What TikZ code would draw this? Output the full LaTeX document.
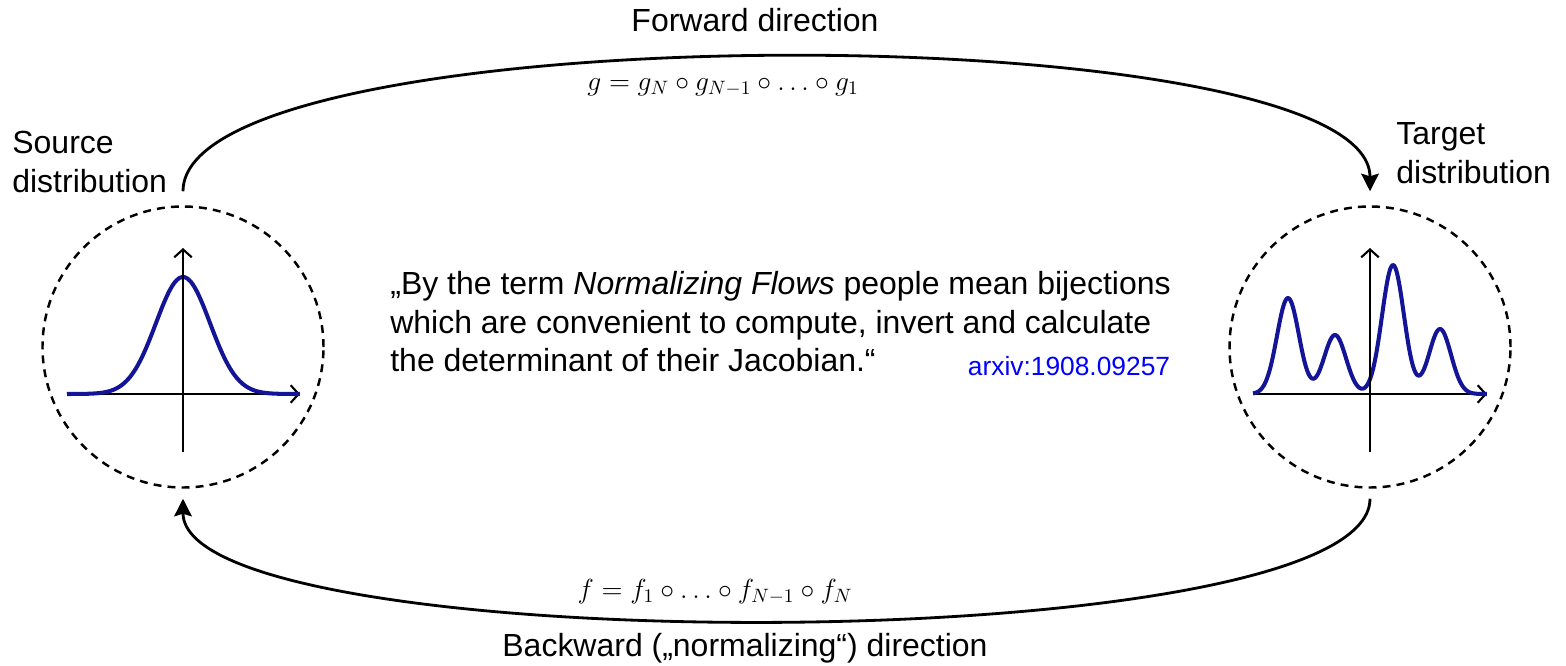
\RequirePackage{fix-cm}
\documentclass[tikz,border=0pt]{standalone}
\usepackage{amsmath}
\usepackage{fontspec}
\setmainfont{Liberation Sans}
\usepackage{tikz}
\usetikzlibrary{positioning, arrows.meta}
\definecolor{pdfblue}{RGB}{20,20,150}
\definecolor{refblue}{RGB}{0,0,255}

\begin{document}
\begin{tikzpicture}[
    dist/.style={circle, draw, line width=1.4pt, dash pattern=on 4.5pt off 3.5pt,
                 minimum size=5.62cm, inner sep=0pt},
    lbl/.style={font=\fontsize{18.2}{21.9}\selectfont, align=left, inner sep=0pt},
    eq/.style={font=\fontsize{15.7}{18}\selectfont},
    axis/.style={line width=1.2pt, -{Straight Barb[length=4.5pt,width=10pt]}},
    pdf/.style={line width=2.3pt, color=pdfblue, line join=round},
    flow/.style={line width=1.6pt, -{Stealth[length=10pt,width=10pt,inset=1.5pt]}}
]
\useasboundingbox (0,0) rectangle (31.32,13.3);

\node[dist] (src) at (3.66,6.36) {};
\node[dist] (tgt) at (27.4,6.36) {};

\node[lbl, anchor=west] (srclbl) at (0.24,10.06) {Source\\distribution};
\node[lbl, anchor=west] (tgtlbl) at (27.92,10.24) {Target\\distribution};

% source: standard normal
\draw[axis] (1.34,5.42) -- (6.0,5.42);
\draw[pdf] plot[domain=1.34:6.0, samples=90, smooth]
    (\x, {5.42 + 2.34*exp(-((\x-3.66)/0.54)^2/2)});
\draw[axis] (3.66,4.26) -- (3.66,8.34);

% target: four bumps
\draw[axis] (25.06,5.42) -- (29.74,5.42);
\draw[pdf] plot[domain=25.06:29.74, samples=200, smooth]
    (\x, {5.42 + 1.92*exp(-((\x-25.76)/0.22)^2/2) + 1.18*exp(-((\x-26.70)/0.22)^2/2)
               + 2.58*exp(-((\x-27.86)/0.22)^2/2) + 1.30*exp(-((\x-28.80)/0.22)^2/2)});
\draw[axis] (27.4,4.26) -- (27.4,8.34);

\node[lbl, anchor=west] (quote) at (7.8,6.86)
    {„By the term \textit{Normalizing Flows} people mean bijections\\
     which are convenient to compute, invert and calculate\\
     the determinant of their Jacobian.“};
\node[font=\fontsize{15}{18}\selectfont, text=refblue] (arxiv) at (21.38,5.98) {arxiv:1908.09257};

\draw[flow, shorten <=0.28cm, shorten >=0.28cm]
    (src.north) .. controls +(0,3.86) and +(0,3.86) .. (tgt.north);
\draw[flow, shorten <=0.2cm, shorten >=0.2cm]
    (tgt.south) .. controls +(0,-3.45) and +(0,-3.45) .. (src.south);

\node[lbl] (fwd) at (15.1,12.9) {Forward direction};
\node[eq] (geq) at (14.46,11.56) {$g = g_N \circ g_{N-1} \circ \ldots \circ g_1$};
\node[eq] (feq) at (14.3,1.46) {$f = f_1 \circ \ldots \circ f_{N-1} \circ f_N$};
\node[lbl] (bwd) at (14.9,0.34) {Backward („normalizing“) direction};

\end{tikzpicture}
\end{document}
